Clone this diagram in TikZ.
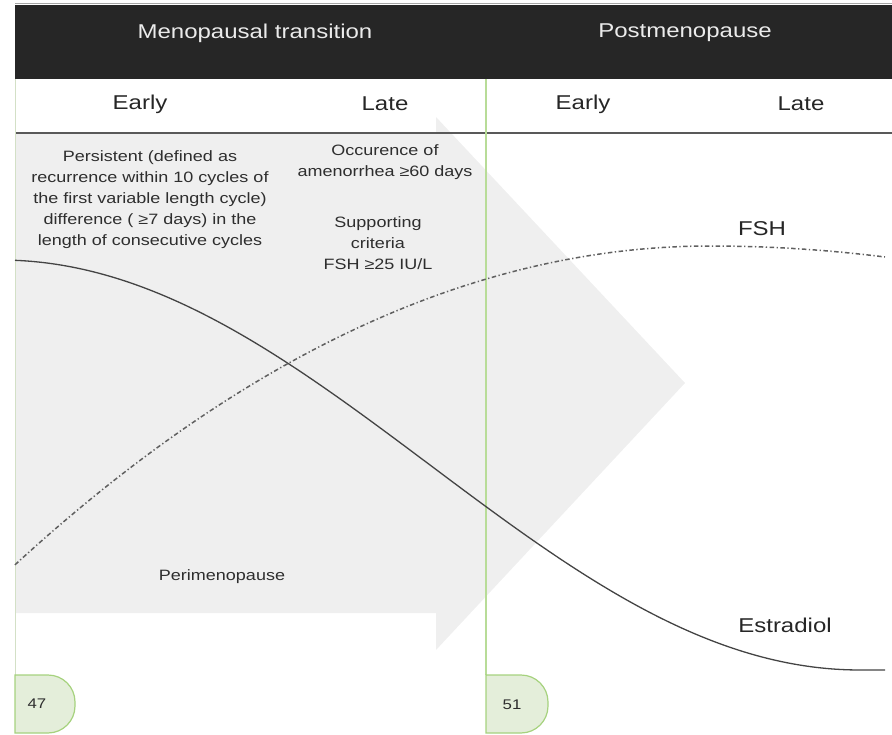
\documentclass[tikz,border=0pt]{standalone}
\usepackage{fontspec}
\newfontfamily\af[FakeStretch=1.2]{Liberation Sans}
\definecolor{hdrblack}{HTML}{262626}
\definecolor{arrowgrey}{HTML}{EFEFEF}
\definecolor{txtgrey}{HTML}{2E2E2E}
\definecolor{linegreen}{HTML}{B8DC98}
\definecolor{pillfill}{HTML}{E4EEDA}
\definecolor{pilledge}{HTML}{A6D27E}
\definecolor{curvegrey}{HTML}{444444}
\tikzset{
  hdrtext/.style={text=white!92!black, inner sep=0pt, font=\af\fontsize{20}{24}\selectfont},
  subtext/.style={text=black!85, inner sep=0pt, font=\af\fontsize{20}{24}\selectfont},
  bodytext/.style={text=txtgrey, inner sep=0pt, align=center, font=\af\fontsize{15}{21}\selectfont},
  curvelabel/.style={text=black!85, inner sep=0pt, font=\af\fontsize{20}{24}\selectfont},
  pilltext/.style={text=txtgrey, inner sep=0pt, font=\af\fontsize{14}{16}\selectfont},
  pillshape/.style={fill=pillfill, draw=pilledge, line width=1.2pt},
  estcurve/.style={draw=curvegrey, line width=1.3pt},
  fshcurve/.style={draw=curvegrey!85, line width=1.5pt, dash pattern=on 4.5pt off 2.5pt on 1.3pt off 2.5pt}
}
\begin{document}
\begin{tikzpicture}[x=1pt,y=-1pt]
\useasboundingbox (0,0) rectangle (892,735);
% big grey arrow
\fill[arrowgrey] (15,133) -- (436,133) -- (436,117) -- (685,383) -- (436,650) -- (436,613) -- (15,613) -- cycle;
% header band
\fill[hdrblack] (15,5) rectangle (892,79);
\draw[black!35, line width=0.8pt] (15,3) -- (892,3);
% header divider line
\draw[black!65, line width=1.8pt] (15,133) -- (892,133);
% vertical lines
\draw[black!15!linegreen!45, line width=1pt] (15,79) -- (15,675);
\draw[linegreen, line width=1.4pt] (486,79) -- (486,675);
% titles
\node[hdrtext] (mt) at (255,33) {Menopausal transition};
\node[hdrtext] (pm) at (685,33) {Postmenopause};
\node[subtext] (e1) at (140,104) {Early};
\node[subtext] (l1) at (385,104) {Late};
\node[subtext] (e2) at (583,104) {Early};
\node[subtext] (l2) at (801,104) {Late};
% body texts
\node[bodytext] (crit1) at (150,200) {Persistent (defined as\\recurrence within 10 cycles of\\the first variable length cycle)\\difference ( ≥7 days) in the\\length of consecutive cycles};
\node[bodytext] (crit2) at (385,162) {Occurence of\\amenorrhea ≥60 days};
\node[bodytext] (crit3) at (378,243) {Supporting\\criteria\\FSH ≥25 IU/L};
\node[bodytext] (peri) at (222,577) {Perimenopause};
% curves
\draw[estcurve] plot[domain=15:860, samples=120, smooth] (\x, {260+205*(1-cos(\x/860*180))}) -- (885,670);
\draw[fshcurve] plot[domain=15:710, samples=120, smooth] (\x, {246+6.6*((\x-710)/100)^2})
   -- plot[domain=710:885, samples=40, smooth] (\x, {246+3.6*((\x-710)/100)^2});
\node[curvelabel] (fsh) at (762,229) {FSH};
\node[curvelabel] (est) at (785,625) {Estradiol};
% age pills
\draw[pillshape] (15,675) -- (48,675) arc[start angle=-90, end angle=0, radius=27] -- (75,706) arc[start angle=0, end angle=90, radius=27] -- (15,733) -- cycle;
\draw[pillshape] (486,675) -- (521,675) arc[start angle=-90, end angle=0, radius=27] -- (548,706) arc[start angle=0, end angle=90, radius=27] -- (486,733) -- cycle;
\node[pilltext] (a47) at (37,704) {47};
\node[pilltext] (a51) at (512,705) {51};
\end{tikzpicture}
\end{document}
